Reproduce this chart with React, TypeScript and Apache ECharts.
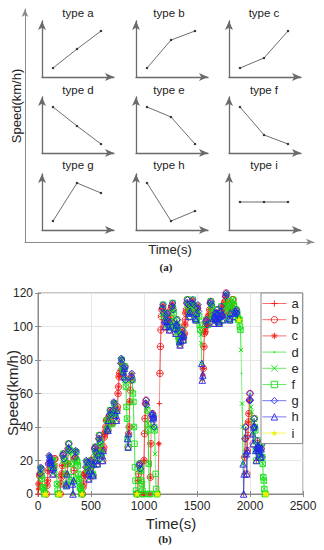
import React, { useEffect, useRef } from 'react';
import * as echarts from 'echarts';

// ---------- panel (a): nine pattern types ----------
const typeLabels = ['type a', 'type b', 'type c', 'type d', 'type e', 'type f', 'type g', 'type h', 'type i'];
const patternTime = [11, 35, 59];
const typeA = [9, 28, 46];
const typeB = [9, 37, 46];
const typeC = [9, 19, 46];
const typeD = [46, 27, 9];
const typeE = [46, 36, 9];
const typeF = [46, 18, 9];
const typeG = [9, 47, 37];
const typeH = [47, 9, 19];
const typeI = [28, 28, 28];
const patterns = [typeA, typeB, typeC, typeD, typeE, typeF, typeG, typeH, typeI];

// ---------- panel (b): driving cycle, sampled every 5 s ----------
const sampleInterval = 5;
const speedKmh = [
  0, 3, 6, 11, 12, 16, 15, 11, 9, 4, 4, 2, 0, 0, 0, 0, 0, 5, 8, 14,
  18, 23, 22, 19, 20, 17, 16, 15, 12, 16, 17, 21, 21, 17, 14, 11, 6, 2, 0, 0,
  0, 0, 0, 6, 10, 12, 17, 23, 24, 21, 20, 17, 12, 6, 5, 12, 18, 27, 30, 26,
  26, 24, 18, 10, 8, 6, 0, 8, 14, 21, 22, 26, 25, 20, 19, 17, 12, 9, 8, 4,
  4, 3, 0, 0, 0, 4, 6, 11, 12, 13, 16, 20, 19, 15, 14, 12, 9, 14, 15, 19,
  20, 18, 17, 12, 11, 18, 22, 27, 28, 25, 24, 20, 18, 24, 27, 33, 35, 31, 30, 25,
  24, 23, 20, 26, 28, 34, 36, 37, 40, 44, 44, 39, 38, 44, 46, 47, 50, 48, 47, 42,
  42, 48, 50, 55, 54, 49, 48, 47, 44, 50, 52, 60, 64, 70, 72, 74, 78, 81, 80, 76,
  74, 73, 70, 75, 76, 68, 64, 52, 45, 33, 28, 36, 40, 55, 62, 68, 70, 72, 68, 60,
  55, 40, 30, 16, 8, 2, 0, 0, 0, 8, 12, 17, 18, 15, 14, 8, 6, 2, 0, 0,
  20, 36, 45, 54, 56, 53, 50, 42, 38, 18, 0, 0, 10, 30, 42, 47, 48, 45, 46, 40,
  38, 24, 12, 3, 0, 0, 0, 0, 30, 54, 72, 88, 98, 106, 110, 111, 113, 108, 106, 104,
  100, 103, 104, 107, 108, 103, 101, 100, 98, 103, 105, 110, 112, 112, 114, 110, 108, 103, 100, 99,
  96, 101, 104, 100, 98, 94, 92, 91, 89, 92, 94, 95, 98, 94, 92, 95, 96, 101, 104, 108,
  110, 114, 116, 113, 112, 108, 106, 109, 110, 113, 114, 114, 116, 113, 112, 111, 108, 105, 104, 108,
  110, 111, 113, 109, 106, 101, 98, 95, 90, 78, 68, 71, 75, 88, 96, 97, 100, 103, 104, 101,
  101, 104, 106, 107, 110, 114, 115, 113, 112, 108, 106, 105, 102, 106, 108, 105, 104, 108, 110, 107,
  106, 103, 102, 106, 108, 109, 112, 107, 104, 107, 108, 112, 114, 115, 118, 120, 119, 115, 112, 111,
  108, 105, 104, 108, 110, 111, 114, 116, 116, 113, 112, 108, 106, 109, 110, 108, 108, 105, 104, 104,
  104, 100, 98, 86, 72, 54, 40, 18, 0, 12, 22, 33, 40, 24, 12, 26, 35, 43, 48, 56,
  60, 56, 52, 49, 44, 36, 30, 40, 45, 40, 38, 26, 20, 27, 32, 28, 26, 28, 28, 24,
  22, 27, 30, 22, 18, 10, 8, 3, 0, 0, 0, 0, 0,
];
const seriesNames = ['a', 'b', 'c', 'd', 'e', 'f', 'g', 'h', 'i'];
const xTicks = [0, 500, 1000, 1500, 2000, 2500];
const yTicks = [0, 20, 40, 60, 80, 100, 120];

const RED = '#f41a1a';
const GREEN = '#12e012';
const BLUE = '#2424f0';
const YELLOW = '#eeee00';

const markerStyles = [
  { color: RED, symbol: 'path://M5,0V10M0,5H10', size: 5.5, fill: false },
  { color: RED, symbol: 'circle', size: 6.5, fill: false },
  { color: RED, symbol: 'path://M5,0V10M0,5H10M1.5,1.5L8.5,8.5M8.5,1.5L1.5,8.5', size: 5, fill: false },
  { color: GREEN, symbol: 'path://M0,0M10,10M3.8,3.8H6.2V6.2H3.8Z', size: 6, fill: true },
  { color: GREEN, symbol: 'path://M0,0L10,10M10,0L0,10', size: 4.5, fill: false },
  { color: GREEN, symbol: 'rect', size: 5.5, fill: false },
  { color: BLUE, symbol: 'diamond', size: 6.5, fill: false },
  { color: BLUE, symbol: 'triangle', size: 6.5, fill: false },
  { color: YELLOW, symbol: 'path://M5,0L7.94,9.05L0.24,3.45L9.76,3.45L2.06,9.05Z', size: 6, fill: true },
];

// every window of three consecutive samples is labelled with one of the nine patterns
function classify(v0: number, v1: number, v2: number): number {
  const d1 = v1 - v0;
  const d2 = v2 - v1;
  const eps = 0.5;
  const s1 = Math.abs(d1) < eps ? 0 : Math.sign(d1);
  const s2 = Math.abs(d2) < eps ? 0 : Math.sign(d2);
  if (s1 === 0 && s2 === 0) return 8;
  const linear = Math.abs(d2 - d1) < 0.3 * Math.max(Math.abs(d1), Math.abs(d2));
  if (s1 >= 0 && s2 >= 0) return linear ? 0 : d2 < d1 ? 1 : 2;
  if (s1 <= 0 && s2 <= 0) return linear ? 3 : Math.abs(d2) > Math.abs(d1) ? 4 : 5;
  if (s1 > 0 && s2 < 0) return 6;
  return 7;
}

function buildCycleSeries() {
  const n = speedKmh.length;
  const times = speedKmh.map((_, i) => i * sampleInterval);
  const data: any[][] = seriesNames.map(() => times.map((t) => [t, '-']));
  for (let s = 0; s + 2 < n; s += 1) {
    const k = classify(speedKmh[s], speedKmh[s + 1], speedKmh[s + 2]);
    for (let j = s; j <= s + 2; j++) data[k][j] = [times[j], speedKmh[j]];
  }
  return data;
}

const SANS = '"Liberation Sans", Arial, sans-serif';
const SERIF = '"Liberation Serif", "Times New Roman", serif';

function markerItemStyle(m: any) {
  return m.fill
    ? { color: m.color, borderWidth: 0 }
    : { color: 'none', borderColor: m.color, borderWidth: 0.9 };
}

function buildOption() {
  const grids: any[] = [];
  const xAxes: any[] = [];
  const yAxes: any[] = [];
  const series: any[] = [];
  const graphics: any[] = [];

  const colLeft = [42, 136, 229];
  const rowAxisY = [77, 153, 230];
  const titleX = [78, 169, 264];
  const titleY = [13, 90, 165];
  const miniW = 72;
  const miniH = 56;
  for (let i = 0; i < 9; i++) {
    const r = Math.floor(i / 3);
    const c = i % 3;
    grids.push({ left: colLeft[c], top: rowAxisY[r] - miniH, width: miniW, height: miniH });
    const axLine = {
      show: true,
      symbol: ['none', 'arrow'],
      symbolSize: [6, 9],
      lineStyle: { color: '#6a6a6a', width: 1.3 },
    };
    xAxes.push({ gridIndex: i, type: 'value', min: 0, max: miniW, axisLine: axLine, axisTick: { show: false }, axisLabel: { show: false }, splitLine: { show: false } });
    yAxes.push({ gridIndex: i, type: 'value', min: 0, max: miniH, axisLine: axLine, axisTick: { show: false }, axisLabel: { show: false }, splitLine: { show: false } });
    series.push({
      type: 'line',
      xAxisIndex: i,
      yAxisIndex: i,
      data: patternTime.map((t, j) => [t, patterns[i][j]]),
      symbol: 'circle',
      symbolSize: 2.5,
      itemStyle: { color: '#333' },
      lineStyle: { color: '#5e5e5e', width: 0.9 },
      silent: true,
    });
    graphics.push({
      type: 'text',
      x: titleX[c],
      y: titleY[r],
      style: { text: typeLabels[i], font: `11.5px ${SANS}`, fill: '#222', align: 'center', verticalAlign: 'middle' },
    });
  }

  // big axes of panel (a)
  grids.push({ left: 25, top: 9, width: 289, height: 233 });
  const bigLine = { show: true, symbol: ['none', 'arrow'], symbolSize: [5, 8], lineStyle: { color: '#8a8a8a', width: 1 } };
  xAxes.push({ gridIndex: 9, type: 'value', min: 0, max: 1, axisLine: bigLine, axisTick: { show: false }, axisLabel: { show: false }, splitLine: { show: false } });
  yAxes.push({ gridIndex: 9, type: 'value', min: 0, max: 1, axisLine: bigLine, axisTick: { show: false }, axisLabel: { show: false }, splitLine: { show: false } });

  // panel (b)
  grids.push({ left: 38, top: 293, width: 265, height: 201, show: true, borderColor: '#8a8a8a', borderWidth: 1, backgroundColor: '#fff' });
  const tickStyle = { show: true, inside: true, length: 3, lineStyle: { color: '#8a8a8a' } };
  xAxes.push({
    gridIndex: 10, type: 'value', min: xTicks[0], max: xTicks[xTicks.length - 1], interval: xTicks[1] - xTicks[0],
    axisLine: { show: true, onZero: false, lineStyle: { color: '#8a8a8a' } },
    axisTick: tickStyle,
    axisLabel: { color: '#262626', fontSize: 12, fontFamily: SANS, margin: 6, formatter: (v: number) => String(v) },
    splitLine: { show: true, lineStyle: { color: '#e6e6e6', width: 1 } },
  });
  xAxes.push({
    gridIndex: 10, type: 'value', position: 'top', min: xTicks[0], max: xTicks[xTicks.length - 1], interval: xTicks[1] - xTicks[0],
    axisLine: { show: false }, axisTick: tickStyle, axisLabel: { show: false }, splitLine: { show: false },
  });
  yAxes.push({
    gridIndex: 10, type: 'value', min: yTicks[0], max: yTicks[yTicks.length - 1], interval: yTicks[1] - yTicks[0],
    axisLine: { show: true, onZero: false, lineStyle: { color: '#8a8a8a' } },
    axisTick: tickStyle,
    axisLabel: { color: '#262626', fontSize: 12, fontFamily: SANS, margin: 5, formatter: (v: number) => String(v) },
    splitLine: { show: true, lineStyle: { color: '#e6e6e6', width: 1 } },
  });
  yAxes.push({
    gridIndex: 10, type: 'value', position: 'right', min: yTicks[0], max: yTicks[yTicks.length - 1], interval: yTicks[1] - yTicks[0],
    axisLine: { show: false }, axisTick: tickStyle, axisLabel: { show: false }, splitLine: { show: false },
  });

  const cycle = buildCycleSeries();
  seriesNames.forEach((name, k) => {
    const m = markerStyles[k];
    series.push({
      type: 'line',
      name,
      xAxisIndex: 10,
      yAxisIndex: 10,
      data: cycle[k],
      symbol: m.symbol,
      symbolSize: m.size,
      showAllSymbol: true,
      connectNulls: false,
      color: m.color,
      itemStyle: markerItemStyle(m),
      lineStyle: { color: m.color, width: 0.7, opacity: 0.7 },
      z: 2 + k * 0.01,
    });
  });

  graphics.push(
    { type: 'text', x: 16, y: 106, rotation: Math.PI / 2, style: { text: 'Speed(km/h)', font: `13px ${SANS}`, fill: '#222', align: 'center', verticalAlign: 'middle' } },
    { type: 'text', x: 170, y: 249, style: { text: 'Time(s)', font: `13px ${SANS}`, fill: '#222', align: 'center', verticalAlign: 'middle' } },
    { type: 'text', x: 166, y: 267, style: { text: '(a)', font: `bold 11px ${SERIF}`, fill: '#222', align: 'center', verticalAlign: 'middle' } },
    { type: 'text', x: 12, y: 393, rotation: Math.PI / 2, style: { text: 'Speed(km/h)', font: `15px ${SANS}`, fill: '#262626', align: 'center', verticalAlign: 'middle' } },
    { type: 'text', x: 171, y: 523, style: { text: 'Time(s)', font: `15px ${SANS}`, fill: '#262626', align: 'center', verticalAlign: 'middle' } },
    { type: 'text', x: 165, y: 539, style: { text: '(b)', font: `bold 11px ${SERIF}`, fill: '#222', align: 'center', verticalAlign: 'middle' } },
  );

  return {
    animation: false,
    backgroundColor: '#fff',
    grid: grids,
    xAxis: xAxes,
    yAxis: yAxes,
    series,
    legend: {
      data: seriesNames.map((name, k) => ({
        name,
        itemStyle: markerItemStyle(markerStyles[k]),
        lineStyle: { color: markerStyles[k].color, width: 0.8, opacity: 0.8 },
      })),
      orient: 'vertical',
      left: 261,
      top: 293,
      itemWidth: 24,
      itemHeight: 8,
      itemGap: 3.2,
      padding: [4, 4, 4, 1],
      borderColor: '#8a8a8a',
      borderWidth: 1,
      backgroundColor: '#fff',
      textStyle: { fontSize: 13, lineHeight: 12, fontFamily: SANS, color: '#262626' },
      selectedMode: false,
    },
    graphic: graphics,
  };
}

export default function App() {
  const ref = useRef<HTMLDivElement>(null);
  useEffect(() => {
    const chart = echarts.init(ref.current!, null, { renderer: 'svg', width: 324, height: 550 });
    chart.setOption(buildOption() as any);
    return () => chart.dispose();
  }, []);
  return <div ref={ref} style={{ position: 'fixed', left: 0, top: 0, width: 324, height: 550, background: '#fff' }} />;
}
